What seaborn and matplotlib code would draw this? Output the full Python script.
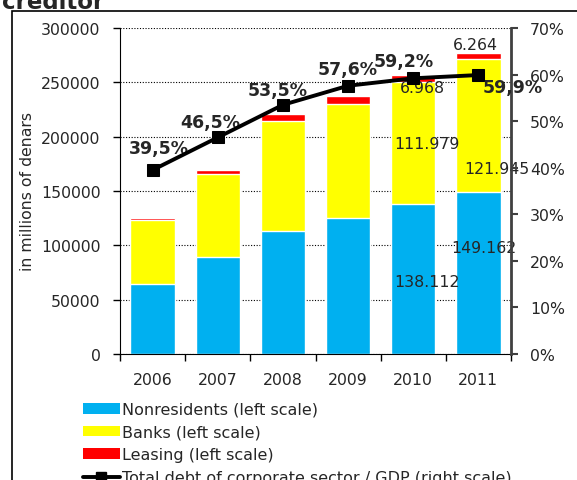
import matplotlib
matplotlib.use("Agg")
import matplotlib.pyplot as plt
from matplotlib.patches import Patch, Rectangle
from matplotlib.lines import Line2D
import numpy as np
import pandas as pd
import seaborn as sns

years = ["2006", "2007", "2008", "2009", "2010", "2011"]
nonresidents = [64000, 89000, 113000, 125000, 138112, 149162]
banks = [59000, 76500, 101500, 105500, 111979, 121945]
leasing = [1700, 3700, 6500, 6500, 6968, 6264]
debt_gdp = [39.5, 46.5, 53.5, 57.6, 59.2, 59.9]
debt_labels = ["39,5%", "46,5%", "53,5%", "57,6%", "59,2%", "59,9%"]

sns.set_style("white")
plt.rcParams["font.family"] = ["DejaVu Sans"]
FS = 11.3

df = pd.DataFrame({"year": years, "nonres": nonresidents, "banks": banks, "leasing": leasing})
df["banks_top"] = df["nonres"] + df["banks"]
df["total"] = df["banks_top"] + df["leasing"]

fig = plt.figure(figsize=(5.77, 4.81), dpi=100)
rect = [120 / 577, 1 - 355 / 481, 391 / 577, 326 / 481]

# background axes only for the dotted grid, so it stays behind the bars
bg = fig.add_axes(rect, zorder=-1)
bg.set_ylim(0, 300000)
bg.set_yticks(np.arange(0, 300001, 50000))
bg.grid(True, axis="y", linestyle=(0, (1, 1.5)), color="black", linewidth=0.8)
bg.tick_params(left=False, bottom=False, labelleft=False, labelbottom=False)
for s in bg.spines.values():
    s.set_visible(False)

ax = fig.add_axes(rect)
ax.patch.set_alpha(0)

# stacked bars drawn back to front
sns.barplot(data=df, x="year", y="total", color="#FF0000", saturation=1, width=0.68, ax=ax)
sns.barplot(data=df, x="year", y="banks_top", color="#FFFF00", saturation=1, width=0.68, ax=ax)
sns.barplot(data=df, x="year", y="nonres", color="#00B0F0", saturation=1, width=0.68, ax=ax)

ax.set_ylim(0, 300000)
ax.set_xlim(-0.5, 5.5)
ax.set_yticks(np.arange(0, 300001, 50000))
ax.set_ylabel("in millions of denars", fontsize=FS, labelpad=4)
ax.set_xlabel("")
ax.grid(False)
ax.tick_params(axis="y", which="major", left=True, length=5, width=1, labelsize=FS, color="black", pad=9)
ax.set_xticks(np.arange(-0.5, 6, 1), minor=True)
ax.tick_params(axis="x", which="major", length=0, labelsize=FS, pad=13)
ax.tick_params(axis="x", which="minor", bottom=True, length=5, width=1, color="black")
for s in ["top", "right"]:
    ax.spines[s].set_visible(False)
ax.spines["left"].set_color("black")
ax.spines["bottom"].set_color("black")

ax2 = ax.twinx()
sns.lineplot(x=np.arange(6), y=debt_gdp, ax=ax2, color="black", linewidth=2.8,
             marker="s", markersize=8.5, markeredgecolor="black", zorder=5)
ax2.set_ylim(0, 70)
ax2.set_yticks(np.arange(0, 71, 10))
ax2.set_yticklabels([f"{v}%" for v in range(0, 71, 10)])
ax2.tick_params(axis="y", right=True, length=5, width=1.5, labelsize=FS, color="#404040", pad=8.5)
ax2.grid(False)
for s in ["top", "left", "bottom"]:
    ax2.spines[s].set_visible(False)
ax2.spines["right"].set_color("#404040")
ax2.spines["right"].set_linewidth(2)
ax2.set_xlim(-0.5, 5.5)

# percent labels
offsets = [(0.1, 4.7), (-0.12, 3.4), (-0.08, 3.2), (0.0, 3.6), (-0.14, 3.7), (0.52, -2.6)]
for i, (lab, (dx, dy)) in enumerate(zip(debt_labels, offsets)):
    ax2.text(i + dx, debt_gdp[i] + dy, lab, ha="center", va="center",
             fontsize=12.5, fontweight="bold")

# value labels for 2010 and 2011
ax.text(4.21, 66300, "138.112", ha="center", va="center", fontsize=FS)
ax.text(4.21, 193300, "111.979", ha="center", va="center", fontsize=FS)
ax.text(4.14, 245700, "6.968", ha="center", va="center", fontsize=FS)
ax.text(5.08, 97600, "149.162", ha="center", va="center", fontsize=FS)
ax.text(5.29, 170300, "121.945", ha="center", va="center", fontsize=FS)
ax.text(4.95, 284400, "6.264", ha="center", va="center", fontsize=FS)

# legend
handles = [
    Patch(facecolor="#00B0F0", edgecolor="none"),
    Patch(facecolor="#FFFF00", edgecolor="none"),
    Patch(facecolor="#FF0000", edgecolor="none"),
    Line2D([0], [0], color="black", lw=2.8, marker="s", markersize=6.5),
]
labels = ["Nonresidents (left scale)", "Banks (left scale)", "Leasing (left scale)",
          "Total debt of corporate sector / GDP (right scale)"]
fig.legend(handles, labels, loc="upper left", bbox_to_anchor=(83 / 577, 1 - 403 / 481),
           frameon=False, fontsize=11.5, handlelength=2.3, handleheight=0.65,
           handletextpad=0.12, labelspacing=0.48, borderaxespad=0, borderpad=0)

# outer frame and cropped title
fig.patches.append(Rectangle((12 / 577, -0.2), 1.2, 1.2 - 12 / 481,
                             transform=fig.transFigure, fill=False, edgecolor="black", linewidth=1.2))
fig.text(2 / 577, 1 - 9 / 481, "creditor", fontsize=16.5, fontweight="bold", ha="left", va="baseline")

fig.savefig("out.png", dpi=100)
